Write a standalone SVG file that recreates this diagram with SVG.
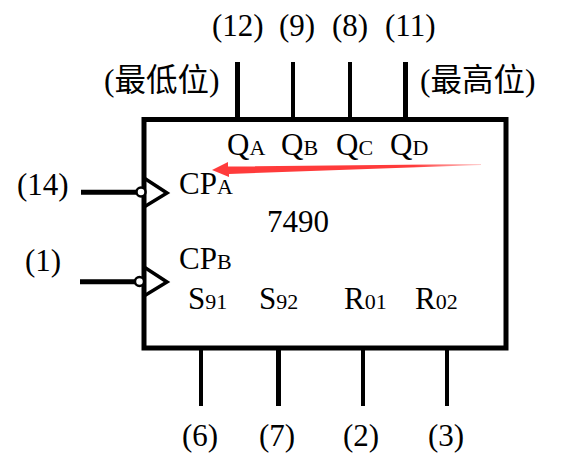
<svg xmlns="http://www.w3.org/2000/svg" width="564" height="459" viewBox="0 0 564 459">
<style>
text{font-family:"Liberation Serif","Noto Sans CJK SC",serif;font-size:31px;fill:#000}
.sub{font-size:22px}
.cjk{font-family:"Liberation Serif","Noto Sans CJK SC",sans-serif;font-size:31.500px}
.w4{stroke:#000;stroke-width:4;fill:none}
.w5{stroke:#000;stroke-width:5;fill:none}
.tri{stroke:#000;stroke-width:3.500;fill:none}
.bub{stroke:#000;stroke-width:2.500;fill:#fff}
</style>
<defs>
<linearGradient id="fade" gradientUnits="userSpaceOnUse" x1="481" y1="165" x2="212" y2="170"><stop offset="0" stop-color="#ff3b3b" stop-opacity=".25"/><stop offset=".25" stop-color="#ff3b3b"/></linearGradient>
</defs>
<g id="chip"><rect x="144" y="119.500" width="362" height="228.500" class="w5" fill="none"/>
<text x="267" y="232">7490</text></g>
<g id="connectors">
<path class="w5" d="M237.500 62V119M405.500 62V119M278.500 348V406M81 192.300H136M80 281.700H136"/>
<path class="w4" d="M293 62V119M350 62V119M201 348V406M363 348V406M447 348V406"/>
</g>
<g id="in-cpa"><path class="tri" d="M144 178L167 193L144 207"/><circle class="bub" cx="141" cy="192" r="4.500"/>
<text x="179" y="194">CP<tspan class="sub">A</tspan></text><text x="17" y="195">(14)</text></g>
<g id="in-cpb"><path class="tri" d="M144 267L167 282L144 296"/><circle class="bub" cx="139.500" cy="281.500" r="4.500"/>
<text x="179" y="269">CP<tspan class="sub">B</tspan></text><text x="25" y="271">(1)</text></g>
<g id="q-a"><text x="227" y="155">Q<tspan class="sub">A</tspan></text><text x="212" y="36">(12)</text></g>
<g id="q-b"><text x="281" y="155">Q<tspan class="sub">B</tspan></text><text x="279" y="36">(9)</text></g>
<g id="q-c"><text x="336" y="155">Q<tspan class="sub">C</tspan></text><text x="332" y="36">(8)</text></g>
<g id="q-d"><text x="390" y="155">Q<tspan class="sub">D</tspan></text><text x="385" y="36">(11)</text></g>
<g id="s91"><text x="188" y="309">S<tspan class="sub">91</tspan></text><text x="182" y="446">(6)</text></g>
<g id="s92"><text x="259" y="309">S<tspan class="sub">92</tspan></text><text x="259" y="446">(7)</text></g>
<g id="r01"><text x="344" y="309">R<tspan class="sub">01</tspan></text><text x="343" y="446">(2)</text></g>
<g id="r02"><text x="415" y="309">R<tspan class="sub">02</tspan></text><text x="428" y="446">(3)</text></g>
<g id="lsb"><text class="cjk" x="104" y="91">(最低位)</text></g>
<g id="msb"><text class="cjk" x="420" y="91">(最高位)</text></g>
<g id="pointer"><path fill="url(#fade)" d="M481 164L228 166.500L228 162L212 170L229 177L229 174L481 165Z"/></g>
</svg>
